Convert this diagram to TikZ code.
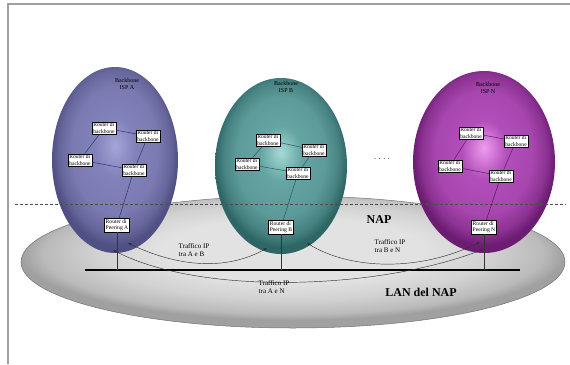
\documentclass[tikz,border=0pt]{standalone}
\usepackage{fontspec}
\setmainfont{Liberation Serif}
\usetikzlibrary{arrows.meta}

% sphere colours
\definecolor{aHi}{HTML}{A4A4D8}
\definecolor{aMid}{HTML}{8282BA}
\definecolor{aEdge}{HTML}{505084}
\definecolor{aLink}{HTML}{34346A}
\definecolor{bHi}{HTML}{A4DAD6}
\definecolor{bMid}{HTML}{64A4A2}
\definecolor{bEdge}{HTML}{2E6666}
\definecolor{bLink}{HTML}{285858}
\definecolor{nHi}{HTML}{EE9CEE}
\definecolor{nMid}{HTML}{B24EBA}
\definecolor{nEdge}{HTML}{6C1C72}
\definecolor{nLink}{HTML}{5A1A60}
\definecolor{discHi}{HTML}{E2E2E2}
\definecolor{discMid}{HTML}{D2D2D2}
\definecolor{discLo}{HTML}{BABABA}
\definecolor{discRim}{HTML}{A0A0A0}

% radial shadings: the 50bp square around the centre covers the shape
\pgfdeclareradialshading{sphereA}{\pgfpoint{0bp}{4bp}}{%
  color(0bp)=(aHi); color(8bp)=(aMid); color(17bp)=(aMid!85!aEdge);
  color(22bp)=(aMid!45!aEdge); color(25bp)=(aEdge); color(50bp)=(aEdge)}
\pgfdeclareradialshading{sphereB}{\pgfpoint{0bp}{4bp}}{%
  color(0bp)=(bHi); color(8bp)=(bMid); color(17bp)=(bMid!85!bEdge);
  color(22bp)=(bMid!45!bEdge); color(25bp)=(bEdge); color(50bp)=(bEdge)}
\pgfdeclareradialshading{sphereN}{\pgfpoint{0bp}{4bp}}{%
  color(0bp)=(nHi); color(8bp)=(nMid); color(17bp)=(nMid!85!nEdge);
  color(22bp)=(nMid!45!nEdge); color(25bp)=(nEdge); color(50bp)=(nEdge)}
\pgfdeclareradialshading{napdisc}{\pgfpoint{0bp}{6bp}}{%
  color(0bp)=(discHi); color(12bp)=(discHi); color(18bp)=(discMid);
  color(23bp)=(discLo); color(25bp)=(discRim); color(50bp)=(discRim)}

\tikzset{
  router/.style={draw=black, line width=0.4pt, fill=white, inner sep=1.2pt,
    align=left, font=\fontsize{5.6}{6.2}\selectfont},
  isplabel/.style={align=center, font=\fontsize{6}{6.6}\selectfont},
  trafficlabel/.style={align=left, font=\fontsize{7}{7.6}\selectfont},
  naplabel/.style={font=\fontsize{12}{13}\selectfont\bfseries},
  traffic/.style={line width=0.45pt, black!80,
    {Stealth[length=3.6pt,width=3pt]}-{Stealth[length=3.6pt,width=3pt]}},
  frameline/.style={line width=1.6pt, gray!75},
}

\begin{document}
\begin{tikzpicture}[x=1pt, y=-1pt]
\useasboundingbox (0,0) rectangle (570,364);
\fill[white] (0,0) rectangle (570,364);

% outer frame (left and top)
\coordinate (frBL) at (8,364);
\coordinate (frTL) at (8,4);
\coordinate (frTR) at (570,4);
\draw[frameline] (frBL) -- (frTL) -- (frTR);

% NAP disc
\shade[shading=napdisc, draw=black!55, line width=0.5pt]
  (293,262) ellipse [x radius=272, y radius=66];

% backbone spheres
\shade[shading=sphereA] (115,160) ellipse [x radius=63, y radius=93];
\shade[shading=sphereB] (281,166) ellipse [x radius=66, y radius=88];
\shade[shading=sphereN] (484,162) ellipse [x radius=71, y radius=91];

% NAP boundary
\coordinate (dashL) at (15,204);
\coordinate (dashR) at (566,204);
\draw[dashed, dash pattern=on 3pt off 2pt, black!70, line width=0.5pt] (dashL) -- (dashR);

% ISP labels
\node[isplabel] (ispA) at (127,84) {Backbone\\ISP A};
\node[isplabel] (ispB) at (286,87) {Backbone\\ISP B};
\node[isplabel] (ispN) at (488,88) {Backbone\\ISP N};

% routers of ISP A
\node[router] (a1) at (104,128) {Router di\\backbone};
\node[router] (a2) at (148,136) {Router di\\backbone};
\node[router] (a3) at (80,160) {Router di\\backbone};
\node[router] (a4) at (134,170) {Router di\\backbone};
\node[router] (pA) at (117,225) {Router di\\Peering A};
\draw[aLink, line width=0.5pt] (a1) -- (a2) (a1) -- (a3) (a3) -- (a4) (a2) -- (a4) (a4) -- (pA);

% routers of ISP B
\node[router] (b1) at (268,140) {Router di\\backbone};
\node[router] (b2) at (314,150) {Router di\\backbone};
\node[router] (b3) at (247,164) {Router di\\backbone};
\node[router] (b4) at (298,173) {Router di\\backbone};
\node[router] (pB) at (281,227) {Router di\\Peering B};
\draw[bLink, line width=0.5pt] (b1) -- (b2) (b1) -- (b3) (b3) -- (b4) (b2) -- (b4) (b4) -- (pB);

% routers of ISP N
\node[router] (n1) at (471,133) {Router di\\backbone};
\node[router] (n2) at (516,141) {Router di\\backbone};
\node[router] (n3) at (450,166) {Router di\\backbone};
\node[router] (n4) at (501,176) {Router di\\backbone};
\node[router] (pN) at (484,227) {Router di\\Peering N};
\draw[nLink, line width=0.5pt] (n1) -- (n2) (n1) -- (n3) (n3) -- (n4) (n2) -- (n4) (n4) -- (pN);

% dots between ISP B and ISP N
\node[font=\fontsize{8}{8}\selectfont] (dots) at (382,159) {. . . .};

% LAN of the NAP
\coordinate (lanL) at (85,270);
\coordinate (lanR) at (520,270);
\draw[line width=2.4pt, black] (lanL) -- (lanR);
\draw[line width=0.4pt, black!80] (pA.south) -- (pA.south |- lanL);
\draw[line width=0.4pt, black!80] (pB.south) -- (pB.south |- lanL);
\draw[line width=0.4pt, black!80] (pN.south) -- (pN.south |- lanL);

% traffic flows between peering routers
\coordinate (tAB) at (128,243);
\coordinate (tAN) at (113,250);
\coordinate (tBA) at (267,248);
\coordinate (tBN) at (307,243);
\coordinate (tNB) at (480,242);
\coordinate (tNA) at (484,249);
\draw[traffic] (tAB) .. controls (175,266) and (225,272) .. (tBA);
\draw[traffic] (tAN) .. controls (200,296) and (380,290) .. (tNA);
\draw[traffic] (tBN) .. controls (350,270) and (420,272) .. (tNB);

% labels
\node[trafficlabel] (lAB) at (194,250) {Traffico IP\\tra A e B};
\node[trafficlabel] (lBN) at (390,246) {Traffico IP\\tra B e N};
\node[trafficlabel] (lAN) at (274,287) {Traffico IP\\tra A e N};
\node[naplabel] (nap) at (379,220) {NAP};
\node[naplabel] (lan) at (421,292) {LAN del NAP};
\end{tikzpicture}
\end{document}
